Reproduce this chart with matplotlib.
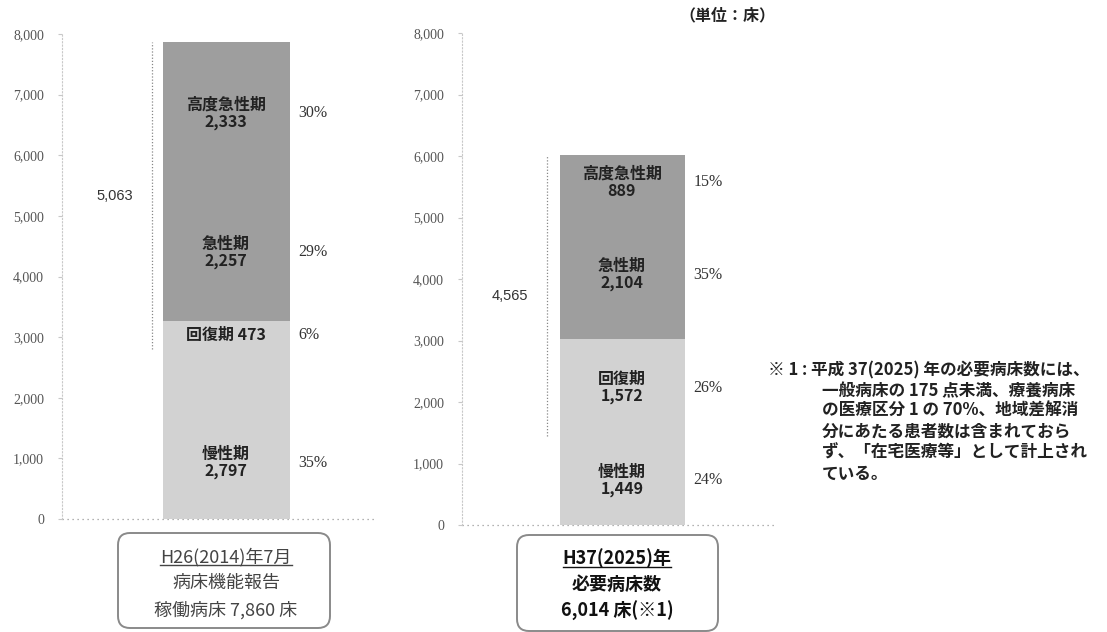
import matplotlib
matplotlib.use('Agg')
import matplotlib.pyplot as plt
from matplotlib.patches import FancyBboxPatch
from matplotlib.lines import Line2D
from matplotlib.transforms import IdentityTransform

plt.rcParams['font.family'] = ['Noto Sans CJK JP', 'DejaVu Sans']

# bed counts by stage, bottom to top
stages = ['慢性期', '回復期', '急性期', '高度急性期']
beds_2014 = [2797, 473, 2257, 2333]
beds_2025 = [1449, 1572, 2104, 889]
pct_2014 = [35, 6, 29, 30]
pct_2025 = [24, 26, 35, 15]
stage_colors = ['#d2d2d2', '#d2d2d2', '#9e9e9e', '#9e9e9e']
yticks = [0, 1000, 2000, 3000, 4000, 5000, 6000, 7000, 8000]

box_2014 = ['H26(2014)年7月', '病床機能報告', '稼働病床 7,860 床']
box_2025 = ['H37(2025)年', '必要病床数', '6,014 床(※1)']
unit_text = '（単位：床）'
note_lines = [
    '※ 1 : 平成 37(2025) 年の必要病床数には、',
    '一般病床の 175 点未満、療養病床',
    'の医療区分 1 の 70%、地域差解消',
    '分にあたる患者数は含まれておら',
    'ず、「在宅医療等」として計上され',
    'ている。',
]

W, H = 1107, 632
fig = plt.figure(figsize=(W / 100, H / 100), dpi=100)


def px_axes(x0, y_top, x1, y_bot):
    return fig.add_axes([x0 / W, 1 - y_bot / H, (x1 - x0) / W, (y_bot - y_top) / H])


def draw_panel(ax, beds, pcts, bar_x, bar_w, bracket_x, bracket_lx, single_line, label_y):
    ax.set_xlim(0, 313)
    ax.set_ylim(0, 8000)
    ax.set_yticks(yticks)
    ax.set_yticklabels([f'{v:,}' for v in yticks], fontfamily='Liberation Serif',
                       fontsize=10, color='#555555')
    ax.set_xticks([])
    for s in ['top', 'right', 'bottom']:
        ax.spines[s].set_visible(False)
    ax.spines['left'].set_linestyle((0, (1, 2)))
    ax.spines['left'].set_color('#c8c8c8')
    ax.spines['left'].set_linewidth(0.8)
    ax.tick_params(axis='y', length=3, color='#c8c8c8', pad=10)
    ax.axhline(0, color='#999999', ls=(0, (1, 3)), lw=0.9, clip_on=False, zorder=1)

    bottom = 0
    total = sum(beds)
    for i, v in enumerate(beds):
        ax.bar(bar_x, v, width=bar_w, bottom=bottom, color=stage_colors[i],
               edgecolor='none', zorder=2)
        y = label_y[i] if label_y[i] is not None else bottom + v / 2
        if i in single_line:
            txt = f'{stages[i]} {v:,}'
        else:
            txt = f'{stages[i]}\n{v:,}'
        ax.text(bar_x, y, txt, ha='center', va='center', fontsize=11.5,
                fontweight='bold', color='#222222', linespacing=1.1, zorder=3)
        ax.text(bar_x + bar_w / 2 + 9, y, f'{pcts[i]}%', ha='left', va='center',
                fontfamily='Liberation Serif', fontsize=11.5, color='#333333')
        bottom += v

    # bracket over everything above the chronic-stage segment
    ax.plot([bracket_x, bracket_x], [beds[0], total], color='#888888',
            ls=(0, (1, 1.5)), lw=0.9, zorder=1)
    ax.text(bracket_lx, (beds[0] + total) / 2, f'{total - beds[0]:,}',
            ha='center', va='center', fontfamily='Liberation Sans',
            fontsize=10.5, color='#333333')


ax1 = px_axes(62, 34, 375, 519)
draw_panel(ax1, beds_2014, pct_2014, 164, 127, 90, 53, [1], [930, None, None, None])

ax2 = px_axes(462, 33, 775, 525)
draw_panel(ax2, beds_2025, pct_2025, 160, 125, 85, 48, [], [None, None, None, None])


def fx(x):
    return x / W


def fy(y):
    return 1 - y / H


def caption_box(x0, y0, x1, y1, lines, ys, cx, bold, color):
    patch = FancyBboxPatch((x0, H - y1), x1 - x0, y1 - y0,
                           boxstyle='round,pad=0,rounding_size=12',
                           transform=IdentityTransform(), facecolor='white',
                           edgecolor='#8a8a8a', lw=1.4)
    fig.add_artist(patch)
    texts = []
    for line, y in zip(lines, ys):
        t = fig.text(fx(cx), fy(y), line, ha='center', va='center', fontsize=13,
                     fontweight='bold' if bold else 'normal', color=color)
        texts.append(t)
    return texts


left_texts = caption_box(118, 533, 330, 628, box_2014, [557, 583, 610], 226, False, '#444444')
right_texts = caption_box(517, 535, 718, 631, box_2025, [558, 584, 611], 617, True, '#111111')

fig.text(fx(727), fy(15), unit_text, ha='center', va='center', fontsize=11.5,
         fontweight='bold', color='#222222')

note_y = [370, 391, 411, 432, 453, 474]
for i, (line, y) in enumerate(zip(note_lines, note_y)):
    x = 768 if i == 0 else 822
    fig.text(fx(x), fy(y), line, ha='left', va='center', fontsize=12,
             fontweight='bold', color='#222222')

# underline the first caption line of each box
fig.canvas.draw()
renderer = fig.canvas.get_renderer()
for t, col in [(left_texts[0], '#444444'), (right_texts[0], '#111111')]:
    bb = t.get_window_extent(renderer)
    fig.add_artist(Line2D([bb.x0, bb.x1], [bb.y0 + 1, bb.y0 + 1], color=col, lw=1.0,
                          transform=IdentityTransform()))

fig.savefig('out.png', dpi=100)
